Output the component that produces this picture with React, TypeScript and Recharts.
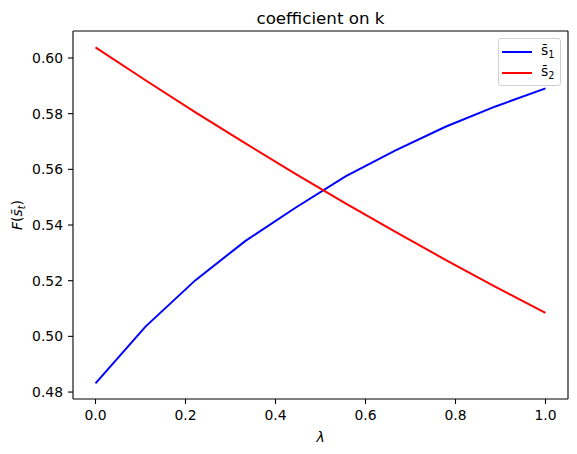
import { Legend, Line, LineChart, ReferenceLine, XAxis, YAxis } from "recharts";

const FONT = "'DejaVu Sans', sans-serif";

const lambdas = [0, 0.1111, 0.2222, 0.3333, 0.4444, 0.5556, 0.6667, 0.7778, 0.8889, 1];
const s1Values = [0.4831, 0.5035, 0.5202, 0.5343, 0.5462, 0.5575, 0.5668, 0.5753, 0.5826, 0.5891];
const s2Values = [0.6038, 0.592, 0.5805, 0.5693, 0.5584, 0.5478, 0.5375, 0.5275, 0.5178, 0.5084];
const xTicks = [0, 0.2, 0.4, 0.6, 0.8, 1];
const yTicks = [0.48, 0.5, 0.52, 0.54, 0.56, 0.58, 0.6];

const rows = lambdas.map((lambda, i) => ({ lambda, s1: s1Values[i], s2: s2Values[i] }));

const X_DOMAIN: [number, number] = [-0.05, 1.05];
const Y_DOMAIN: [number, number] = [0.4775, 0.6097];

const tickStyle = { fill: "#000", fontSize: 13.9, fontFamily: FONT };

function TitleLabel(props: any) {
  const { viewBox } = props;
  return (
    <text
      x={viewBox.x + viewBox.width / 2}
      y={viewBox.y - 7}
      textAnchor="middle"
      fontSize={16.7}
      fontFamily={FONT}
      fill="#000"
    >
      coefficient on k
    </text>
  );
}

function XLabel(props: any) {
  const { viewBox } = props;
  return (
    <text
      x={viewBox.x + viewBox.width / 2}
      y={viewBox.y + 43}
      textAnchor="middle"
      fontSize={13.9}
      fontFamily={FONT}
      fontStyle="italic"
      fill="#000"
    >
      λ
    </text>
  );
}

function YLabel(props: any) {
  const { viewBox } = props;
  const x = 22;
  const y = viewBox.y + viewBox.height / 2;
  return (
    <text
      x={x}
      y={y}
      transform={`rotate(-90, ${x}, ${y})`}
      textAnchor="middle"
      fontSize={13.9}
      fontFamily={FONT}
      fill="#000"
    >
      <tspan fontStyle="italic">F</tspan>
      <tspan>(</tspan>
      <tspan fontStyle="italic">s̄</tspan>
      <tspan fontStyle="italic" fontSize={9.7} dy={3}>t</tspan>
      <tspan dy={-3}>)</tspan>
    </text>
  );
}

function LegendBox() {
  const items = [
    { color: "#0000ff", sub: "1" },
    { color: "#ff0000", sub: "2" },
  ];
  return (
    <div
      style={{
        position: "relative",
        width: 63,
        height: 48,
        boxSizing: "border-box",
        border: "1px solid #d0d0d0",
        borderRadius: 3,
        background: "rgba(255,255,255,0.8)",
        fontFamily: FONT,
        fontSize: 13.9,
        color: "#000",
      }}
    >
      {items.map((item, i) => (
        <div key={item.sub}>
          <div
            style={{
              position: "absolute",
              left: 3,
              top: 12 + i * 21,
              width: 30,
              height: 2,
              background: item.color,
            }}
          />
          <div
            style={{
              position: "absolute",
              left: 42,
              top: 2 + i * 21,
              lineHeight: "18px",
              whiteSpace: "nowrap",
            }}
          >
            s̄<span style={{ fontSize: 9.7, position: "relative", top: 3 }}>{item.sub}</span>
          </div>
        </div>
      ))}
    </div>
  );
}

export default function App() {
  return (
    <div style={{ position: "absolute", left: 0, top: 0, background: "#fff" }}>
      <LineChart
        width={577}
        height={454}
        data={rows}
        margin={{ top: 31, right: 9, bottom: 0, left: 0 }}
        style={{ fontFamily: FONT }}
      >
        <XAxis
          dataKey="lambda"
          type="number"
          domain={X_DOMAIN}
          ticks={xTicks}
          tickFormatter={(v: number) => v.toFixed(1)}
          tick={tickStyle}
          tickSize={5}
          tickMargin={6}
          height={55}
          axisLine={{ stroke: "#000", strokeWidth: 1.1 }}
          tickLine={{ stroke: "#000", strokeWidth: 1.1 }}
          allowDataOverflow
          label={XLabel}
        />
        <YAxis
          type="number"
          domain={Y_DOMAIN}
          ticks={yTicks}
          tickFormatter={(v: number) => v.toFixed(2)}
          tick={tickStyle}
          tickSize={5}
          tickMargin={5}
          width={73}
          axisLine={{ stroke: "#000", strokeWidth: 1.1 }}
          tickLine={{ stroke: "#000", strokeWidth: 1.1 }}
          allowDataOverflow
          label={YLabel}
        />
        {/* top and right spines of the axes box */}
        <ReferenceLine
          y={Y_DOMAIN[1]}
          stroke="#000"
          strokeWidth={1.1}
          ifOverflow="visible"
          label={TitleLabel}
        />
        <ReferenceLine x={X_DOMAIN[1]} stroke="#000" strokeWidth={1.1} ifOverflow="visible" />
        <Legend
          layout="horizontal"
          align="center"
          verticalAlign="middle"
          content={LegendBox}
          wrapperStyle={{ position: "absolute", left: 498, top: 38, width: 63, height: 48 }}
        />
        <Line
          dataKey="s1"
          name="s1"
          stroke="#0000ff"
          strokeWidth={2}
          dot={false}
          type="linear"
          isAnimationActive={false}
        />
        <Line
          dataKey="s2"
          name="s2"
          stroke="#ff0000"
          strokeWidth={2}
          dot={false}
          type="linear"
          isAnimationActive={false}
        />
      </LineChart>
    </div>
  );
}
